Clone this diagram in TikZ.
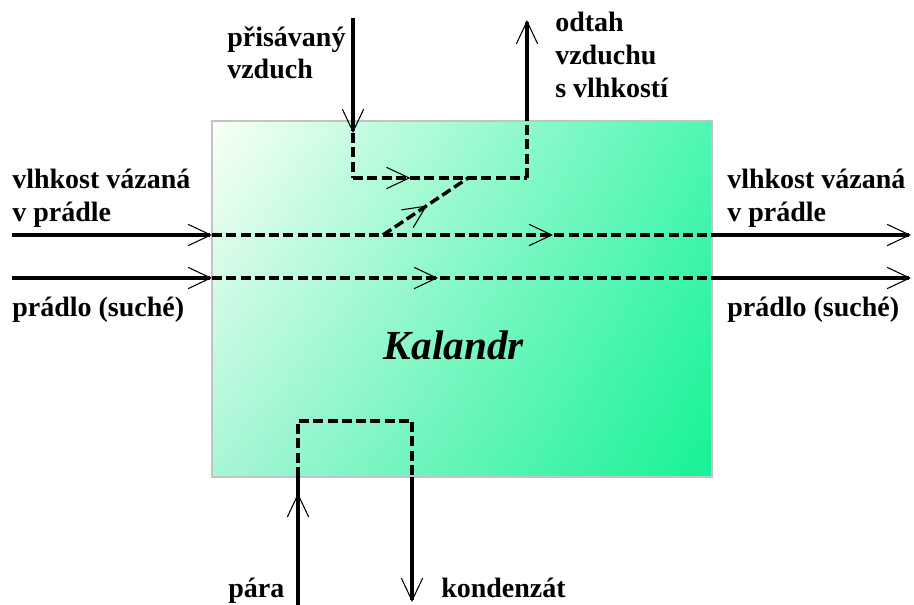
\documentclass[tikz,border=0pt]{standalone}
\usepackage{fontspec}
\setmainfont{Liberation Serif}
\usetikzlibrary{arrows.meta,decorations.markings,shadings}
\definecolor{cUL}{RGB}{250,255,246}
\definecolor{cUR}{RGB}{78,246,178}
\definecolor{cLL}{RGB}{168,246,214}
\definecolor{cLR}{RGB}{22,242,150}
\definecolor{boxline}{RGB}{195,195,195}
\begin{document}
\begin{tikzpicture}[x=0.75pt,y=-0.75pt,
  >={Straight Barb[length=17pt,width=16pt,line width=0.8pt]},
  solidflow/.style={line width=2.6pt,line join=miter},
  dashflow/.style={line width=2.6pt,dash pattern=on 7.5pt off 3.2pt,line join=miter},
  midarrow/.style={postaction={decorate,decoration={markings,mark=at position #1 with {\arrow{>}}}}},
  lbl/.style={anchor=base west,inner sep=0pt,font=\fontsize{21}{24}\selectfont\bfseries},
  title/.style={anchor=base,inner sep=0pt,font=\fontsize{31}{34}\selectfont\bfseries\itshape}]
\useasboundingbox (0,0) rectangle (914,605);

% machine box
\node[draw=boxline,line width=1.3pt,minimum width=375pt,minimum height=267pt,inner sep=0pt,
  upper left=cUL,upper right=cUR,lower left=cLL,lower right=cLR] (kal) at (462,299) {};
\node[title] (kaltxt) at (454,360) {Kalandr};

% coordinates
\coordinate (inA) at (353,18);
\coordinate (inB) at (353,133);
\coordinate (inC) at (353,178);
\coordinate (outC) at (527,178);
\coordinate (outB) at (527,121);
\coordinate (outA) at (527,20);
\coordinate (diagA) at (383,235);
\coordinate (diagB) at (468,178);
\coordinate (mL) at (12,235);
\coordinate (mB) at (212,235);
\coordinate (mE) at (712,235);
\coordinate (mR) at (911,235);
\coordinate (pL) at (12,278);
\coordinate (pB) at (212,278);
\coordinate (pE) at (712,278);
\coordinate (pR) at (911,278);
\coordinate (paraA) at (298,607);
\coordinate (paraB) at (298,477);
\coordinate (paraC) at (298,421);
\coordinate (kondC) at (412,421);
\coordinate (kondB) at (412,477);
\coordinate (kondA) at (412,602);

% air
\draw[solidflow,->] (inA) -- (inB);
\draw[dashflow] (inB) -- (inC);
\draw[dashflow,midarrow=0.33] (inC) -- (outC);
\draw[dashflow] (outC) -- (outB);
\draw[solidflow,->] (outB) -- (outA);
\draw[dashflow,midarrow=0.52] (diagA) -- (diagB);

% moisture
\draw[solidflow,->] (mL) -- (mB);
\draw[dashflow,midarrow=0.682] (mB) -- (mE);
\draw[solidflow,->] (mE) -- (mR);

% laundry
\draw[solidflow,->] (pL) -- (pB);
\draw[dashflow,midarrow=0.452] (pB) -- (pE);
\draw[solidflow,->] (pE) -- (pR);

% steam / condensate
\draw[solidflow,midarrow=0.876] (paraA) -- (paraB);
\draw[dashflow] (paraB) -- (paraC) -- (kondC) -- (kondB);
\draw[solidflow,->] (kondB) -- (kondA);

% labels
\node[lbl] (t1a) at (227,46.7) {přisávaný};
\node[lbl] (t1b) at (227,79) {vzduch};
\node[lbl] (t2a) at (555,31.7) {odtah};
\node[lbl] (t2b) at (555,65) {vzduchu};
\node[lbl] (t2c) at (555,98) {s vlhkostí};
\node[lbl] (t3a) at (12,189) {vlhkost vázaná};
\node[lbl] (t3b) at (12,222) {v prádle};
\node[lbl] (t4) at (12,317) {prádlo (suché)};
\node[lbl] (t5a) at (727,189) {vlhkost vázaná};
\node[lbl] (t5b) at (727,222) {v prádle};
\node[lbl] (t6) at (727,317) {prádlo (suché)};
\node[lbl] (t7) at (228,598) {pára};
\node[lbl] (t8) at (441,598) {kondenzát};
\end{tikzpicture}
\end{document}
